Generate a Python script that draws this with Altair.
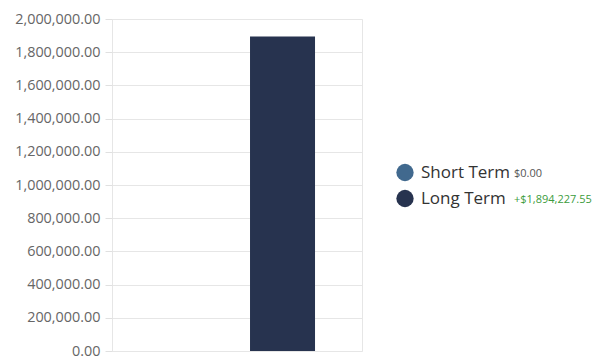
import altair as alt
import pandas as pd

series = ["Short Term", "Long Term"]
values = [0.0, 1894227.55]
amount_labels = ["$0.00", "+$1,894,227.55"]
series_colors = ["#41698e", "#27334f"]
amount_colors = ["#555555", "#3c9c3c"]

df = pd.DataFrame({
    "series": series,
    "value": values,
    "amount": amount_labels,
    "amount_color": amount_colors,
})

color_scale = alt.Scale(domain=series, range=series_colors)
FONT = "Open Sans"

bars = alt.Chart(df).mark_bar().encode(
    x=alt.X("series:N", sort=series, axis=None,
            scale=alt.Scale(paddingInner=0.286, paddingOuter=0.516)),
    y=alt.Y("value:Q", title=None,
            scale=alt.Scale(domain=[0, 2000000], nice=False),
            axis=alt.Axis(values=[i * 200000 for i in range(11)], format=",.2f",
                          labelFont=FONT, labelFontSize=14.4, labelColor="#666666",
                          tickColor="#e0e0e0", tickSize=7, labelPadding=5,
                          domain=False, gridColor="#e6e6e6")),
    color=alt.Color("series:N", scale=color_scale, legend=None),
).properties(width=250, height=332, view=alt.ViewBackground(stroke="#e6e6e6"))

ypos = alt.Y("series:N", sort=series, axis=None,
             scale=alt.Scale(type="point", range=[153.5, 179.5], padding=0))

base = alt.Chart(df).encode(y=ypos)
dots = base.mark_circle(size=300, opacity=1).encode(
    x=alt.value(42),
    color=alt.Color("series:N", scale=color_scale, legend=None),
)
names = base.mark_text(align="left", baseline="middle", font=FONT, fontSize=17,
                       fontWeight=500, color="#333333").encode(x=alt.value(58), text="series:N")
amounts = base.mark_text(align="left", baseline="middle", font=FONT, fontSize=11,
                         dy=1).encode(x=alt.value(151), text="amount:N",
                                      color=alt.Color("amount_color:N", scale=None))
legend = alt.layer(dots, names, amounts).properties(
    width=230, height=332, view=alt.ViewBackground(stroke=None))

chart = alt.hconcat(bars, legend, spacing=0).configure_view(stroke=None).properties(
    padding={"left": 6, "top": 2, "right": 0, "bottom": 0})

chart.save("out.html", embed_options={"renderer": "svg", "actions": False})
